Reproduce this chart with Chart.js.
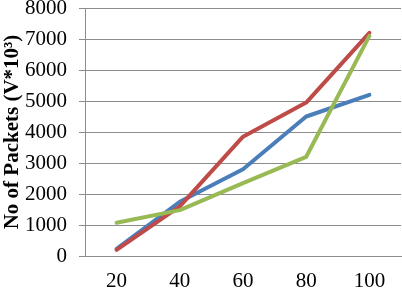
<!DOCTYPE html>
<html>
<head>
<meta charset="utf-8">
<script src="https://cdn.jsdelivr.net/npm/chart.js@4"></script>
<style>
  html, body { margin: 0; padding: 0; background: #fff; }
  #wrap { width: 402px; height: 288px; }
</style>
</head>
<body>
<div id="wrap"><canvas id="chart" width="402" height="288"></canvas></div>
<script>
// data
const categories = ['20', '40', '60', '80', '100'];
const blueValues = [230, 1750, 2800, 4500, 5200];
const redValues = [200, 1600, 3850, 4950, 7200];
const greenValues = [1070, 1480, 2350, 3200, 7100];
const yTicks = [0, 1000, 2000, 3000, 4000, 5000, 6000, 7000, 8000];

const gridColor = '#8c8c8c';
const serif = '"Liberation Serif", "Times New Roman", serif';

function series(label, values, color, order) {
  return {
    label: label,
    data: values,
    borderColor: color,
    backgroundColor: color,
    borderWidth: 4,
    borderCapStyle: 'round',
    borderJoinStyle: 'round',
    pointRadius: 0,
    tension: 0,
    fill: false,
    order: order
  };
}

const ctx = document.getElementById('chart').getContext('2d');
const chart = new Chart(ctx, {
  type: 'line',
  data: {
    labels: categories,
    datasets: [
      series('Series 1', blueValues, '#4a7ebb', 3),
      series('Series 2', redValues, '#be4b48', 2),
      series('Series 3', greenValues, '#98b954', 1)
    ]
  },
  options: {
    responsive: false,
    animation: false,
    layout: { padding: { top: 8, right: 1, left: 0, bottom: 0 } },
    plugins: { legend: { display: false }, tooltip: { enabled: false } },
    scales: {
      x: {
        offset: true,
        grid: { display: false, drawTicks: false },
        border: { display: true, color: gridColor },
        ticks: {
          color: '#000',
          padding: 13,
          font: { family: serif, size: 21 }
        },
        afterFit: function (s) { s.height = 32; }
      },
      y: {
        min: 0,
        max: 8000,
        afterBuildTicks: function (s) {
          s.ticks = yTicks.map(v => ({ value: v }));
        },
        grid: { color: gridColor, lineWidth: 1, drawTicks: true, tickLength: 6 },
        border: { display: true, color: gridColor },
        ticks: {
          color: '#000',
          padding: 12,
          font: { family: serif, size: 21 },
          callback: function (v) { return String(v); }
        },
        title: {
          display: true,
          text: 'No of Packets (V*10³)',
          color: '#000',
          padding: 0,
          font: { family: serif, size: 21, weight: 'bold' }
        },
        afterFit: function (s) { s.width = 85; s.paddingTop = 0; s.paddingBottom = 0; }
      }
    }
  }
});
</script>
</body>
</html>
